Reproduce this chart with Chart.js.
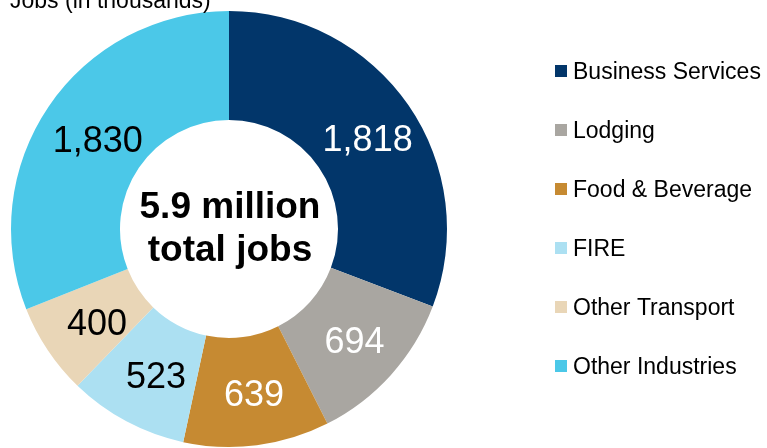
<!DOCTYPE html>
<html>
<head>
<meta charset="utf-8">
<script src="https://cdn.jsdelivr.net/npm/chart.js@4"></script>
<style>
  html, body { margin: 0; padding: 0; background: #ffffff; }
  #wrap { width: 767px; height: 448px; position: relative; }
</style>
</head>
<body>
<div id="wrap"><canvas id="c" width="767" height="448"></canvas></div>
<script>
const categories = ["Business Services", "Lodging", "Food & Beverage", "FIRE", "Other Transport", "Other Industries"];
const jobs = [1818, 694, 639, 523, 400, 1830];
const valueLabels = ["1,818", "694", "639", "523", "400", "1,830"];
const colors = ["#02366A", "#A9A6A1", "#C68A32", "#ACE0F2", "#E9D6B7", "#4BC8E8"];
const labelColors = ["#ffffff", "#ffffff", "#ffffff", "#000000", "#000000", "#000000"];
const titleText = "Jobs (in thousands)";
const centerLines = ["5.9 million", "total jobs"];

const FONT = "'Liberation Sans', Arial, sans-serif";

const overlay = {
  id: 'overlay',
  afterDraw(chart) {
    const ctx = chart.ctx;
    const meta = chart.getDatasetMeta(0);
    ctx.save();
    // value labels
    ctx.font = "36px " + FONT;
    ctx.textAlign = 'center';
    ctx.textBaseline = 'middle';
    meta.data.forEach((arc, i) => {
      const p = arc.tooltipPosition();
      ctx.fillStyle = labelColors[i];
      ctx.fillText(valueLabels[i], p.x + 4, p.y + 5);
    });
    // center text
    const cx = (chart.chartArea.left + chart.chartArea.right) / 2;
    const cy = (chart.chartArea.top + chart.chartArea.bottom) / 2;
    ctx.fillStyle = '#000000';
    ctx.font = "bold 37px " + FONT;
    ctx.fillText(centerLines[0], cx + 1, cy - 21);
    ctx.fillText(centerLines[1], cx + 1, cy + 22);
    // title
    ctx.textAlign = 'left';
    ctx.textBaseline = 'alphabetic';
    ctx.font = "23px " + FONT;
    ctx.fillText(titleText, 10, 8);
    // legend
    ctx.font = "23px " + FONT;
    ctx.textBaseline = 'middle';
    categories.forEach((name, i) => {
      const y = 71 + i * 59;
      ctx.fillStyle = colors[i];
      ctx.fillRect(555, y - 6, 12, 12);
      ctx.fillStyle = '#000000';
      ctx.fillText(name, 573, y + 2);
    });
    ctx.restore();
  }
};

new Chart(document.getElementById('c'), {
  type: 'doughnut',
  data: {
    labels: categories,
    datasets: [{
      data: jobs,
      backgroundColor: colors,
      borderWidth: 0,
      hoverOffset: 0
    }]
  },
  options: {
    responsive: false,
    animation: false,
    cutout: '50%',
    rotation: 0,
    layout: { padding: { left: 11, right: 320, top: 11, bottom: 1 } },
    plugins: {
      legend: { display: false },
      tooltip: { enabled: false },
      title: { display: false }
    }
  },
  plugins: [overlay]
});
</script>
</body>
</html>
